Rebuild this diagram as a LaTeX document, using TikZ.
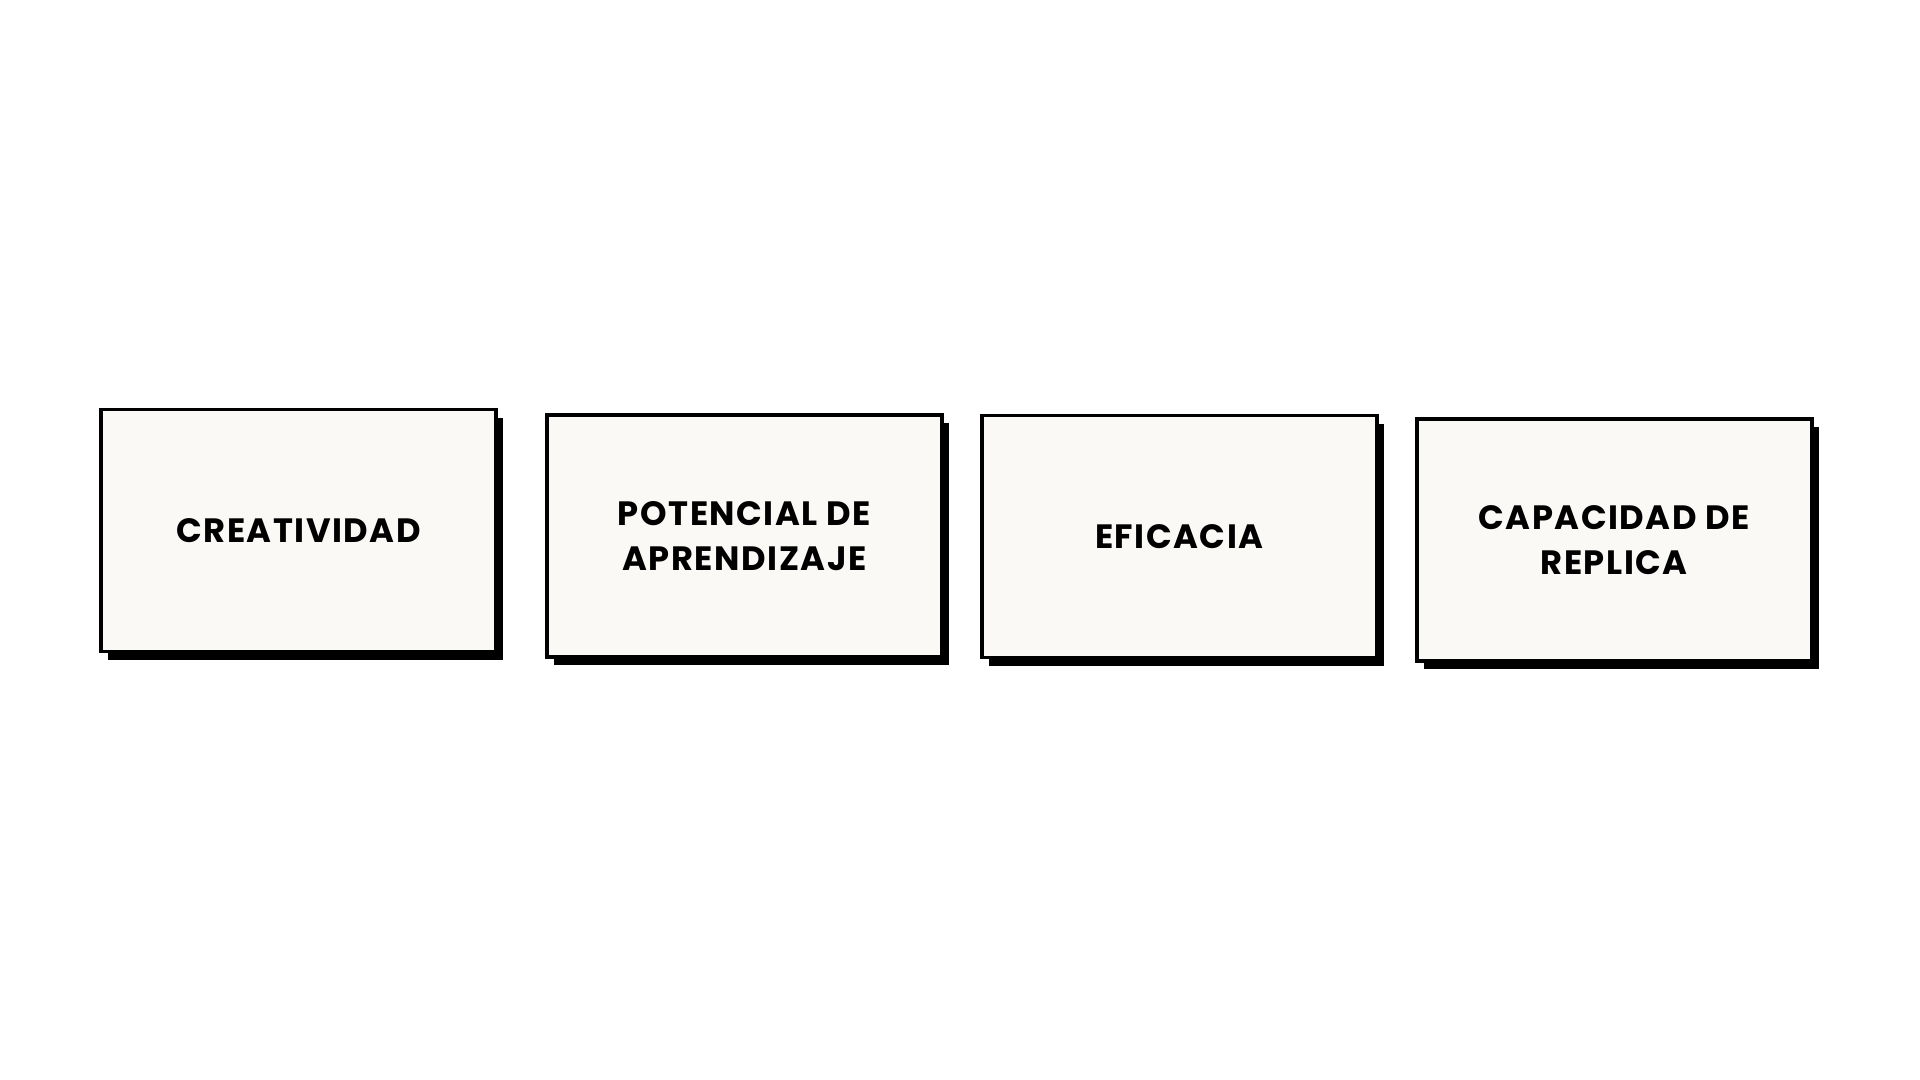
\documentclass[tikz,border=0pt]{standalone}
\usepackage{fontspec}
\setmainfont{Poppins}[LetterSpace=4.5]
\usetikzlibrary{positioning,shadows}
\definecolor{cardfill}{HTML}{FAF9F6}

\begin{document}
\begin{tikzpicture}[
  node distance=3.6mm,
  card/.style={draw,line width=1.1pt,fill=cardfill,align=center,
    minimum width=39.5mm,minimum height=24.2mm,
    font=\fontsize{9.6}{13}\selectfont\bfseries,
    drop shadow={shadow xshift=0.7mm,shadow yshift=-0.85mm,opacity=1,fill=black}}
]
\useasboundingbox[fill=white] (0,0) rectangle (19.2,10.8);
% four cards in one row
\node[card] (cre) at (2.985,5.495) {CREATIVIDAD};
\node[card,right=4.7mm of cre,yshift=-0.55mm] (pot) {POTENCIAL DE\\APRENDIZAJE};
\node[card,right=of pot,yshift=-0.05mm] (efi) {EFICACIA};
\node[card,right=of efi,yshift=-0.35mm] (cap) {CAPACIDAD DE\\REPLICA};
\end{tikzpicture}
\end{document}
